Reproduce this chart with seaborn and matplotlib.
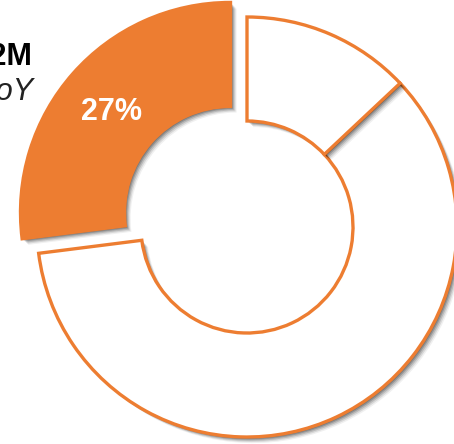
import matplotlib
matplotlib.use("Agg")
import matplotlib.pyplot as plt
import matplotlib.patheffects as pe
import seaborn as sns

# Share of the total: highlighted segment first, then the remaining two
segments = ["Highlighted", "Rest", "Other"]
shares = [27, 60, 13]
headline_value = "$1.2M"
headline_note = "+8% YoY"

sns.set_theme(style="white")
plt.rcParams["font.family"] = ["Liberation Sans", "DejaVu Sans"]

orange = "#ED7D31"
face_colors = [orange, "white", "white"]

fig = plt.figure(figsize=(4.54, 4.44), dpi=100)
ax = fig.add_axes([0, 0, 1, 1])

# soft drop shadow built from a few stacked offsets
shadow = [
    pe.SimplePatchShadow(offset=(o, -o), shadow_rgbFace="black", alpha=a)
    for o, a in [(4.4, 0.06), (3.6, 0.10), (2.8, 0.14), (2.0, 0.18),
                 (1.3, 0.18)]
] + [pe.Normal()]

wedges, _ = ax.pie(
    shares,
    colors=face_colors,
    startangle=90,
    counterclock=True,
    radius=210,
    center=(247, 217),
    explode=[22, 0, 0],
    wedgeprops=dict(width=104, edgecolor=orange, linewidth=2.4,
                    joinstyle="miter"),
)
for w in wedges:
    w.set_path_effects(shadow)

ax.text(112, 324, f"{shares[0]}%", color="white", fontsize=22,
        fontweight="bold", ha="center", va="baseline")

ax.text(32, 379, headline_value, color="black", fontsize=22,
        fontweight="bold", ha="right", va="baseline")
ax.text(33, 344, headline_note, color="#222222", fontsize=22,
        fontstyle="italic", ha="right", va="baseline")

ax.set_xlim(0, 454)
ax.set_ylim(0, 444)
ax.set_aspect("equal")
ax.axis("off")

fig.savefig("out.png", dpi=100, facecolor="white")
